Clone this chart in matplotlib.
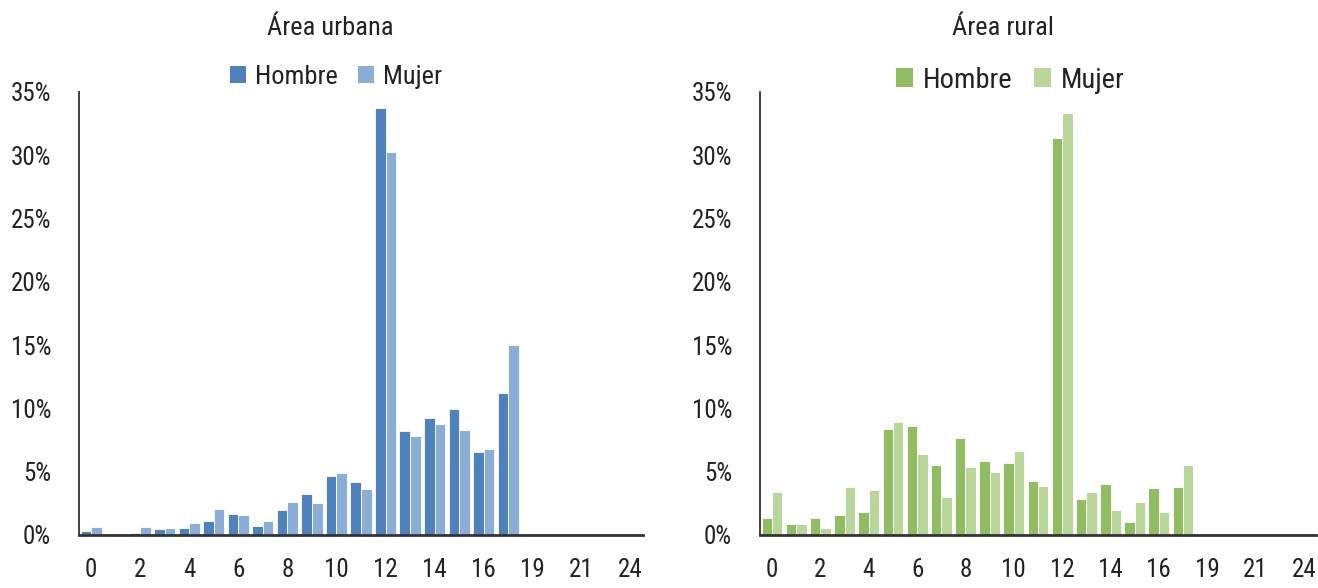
import matplotlib
matplotlib.use("Agg")
import matplotlib.pyplot as plt
import matplotlib.font_manager as fm
import numpy as np
from matplotlib.patches import Patch
from matplotlib.ticker import FuncFormatter, MultipleLocator

# Prefer a narrow sans face (Calibri-like proportions) when one is installed
_fonts = fm.fontManager.ttflist
_names = {f.name for f in _fonts}
font_family, font_stretch = 'Open Sans', 'normal'
for cand in ['Liberation Sans Narrow', 'Roboto Condensed', 'Open Sans Condensed',
             'Noto Sans Condensed', 'Arial Narrow']:
    if cand in _names:
        font_family = cand
        break
else:
    for base in ['Noto Sans', 'DejaVu Sans', 'Open Sans', 'Roboto']:
        if any(f.name == base and str(f.stretch) in ('condensed', 'semi-condensed')
               for f in _fonts):
            font_family, font_stretch = base, 'condensed'
            break

plt.rcParams['font.family'] = [font_family, 'DejaVu Sans']
plt.rcParams['font.stretch'] = font_stretch

# Years of schooling categories
years = ['0', '1', '2', '3', '4', '5', '6', '7', '8', '9', '10', '11',
         '12', '13', '14', '15', '16', '17', '19', '20', '21', '22', '24']

# Share of population (%) by years of schooling
urban_men = [0.34, 0.05, 0.16, 0.50, 0.55, 1.08, 1.63, 0.74, 2.00, 3.23, 4.65, 4.20,
             33.70, 8.20, 9.26, 9.97, 6.57, 11.25, 0.02, 0.10, 0.0, 0.02, 0.01]
urban_women = [0.60, 0.08, 0.60, 0.55, 0.92, 2.08, 1.58, 1.08, 2.60, 2.50, 4.90, 3.60,
               30.26, 7.80, 8.75, 8.33, 6.78, 15.00, 0.05, 0.06, 0.0, 0.05, 0.0]
rural_men = [1.35, 0.85, 1.35, 1.60, 1.80, 8.35, 8.60, 5.50, 7.70, 5.85, 5.65, 4.30,
             31.40, 2.85, 4.00, 1.05, 3.70, 3.80, 0.0, 0.0, 0.0, 0.0, 0.0]
rural_women = [3.40, 0.85, 0.55, 3.80, 3.55, 8.90, 6.40, 3.00, 5.40, 4.95, 6.60, 3.85,
               33.33, 3.40, 2.00, 2.60, 1.80, 5.55, 0.0, 0.0, 0.0, 0.0, 0.0]

W, H = 1318, 588
fig = plt.figure(figsize=(W / 100, H / 100), dpi=100)

panels = [
    dict(title='Área urbana', men=urban_men, women=urban_women,
         colors=('#4F81BD', '#8BAED6'), rect=(79, 643), tx=330, lx=336, ly=77, lfs=19),
    dict(title='Área rural', men=rural_men, women=rural_women,
         colors=('#92BC62', '#B9D69B'), rect=(760, 1316), tx=1003, lx=1010, ly=80, lfs=20.5),
]

x = np.arange(len(years))
bw = 0.43
y_top, y_bot = 92, 535

for p in panels:
    x0, x1 = p['rect']
    ax = fig.add_axes([x0 / W, (H - y_bot) / H, (x1 - x0) / W, (y_bot - y_top) / H])
    c_m, c_w = p['colors']
    ax.bar(x - bw / 2, np.array(p['men']) / 100, width=bw, color=c_m,
           edgecolor='white', linewidth=0.6)
    ax.bar(x + bw / 2, np.array(p['women']) / 100, width=bw, color=c_w,
           edgecolor='white', linewidth=0.6)
    ax.set_xlim(-0.5, len(years) - 0.5)
    ax.set_ylim(0, 0.35)
    ax.yaxis.set_major_locator(MultipleLocator(0.05))
    ax.yaxis.set_major_formatter(FuncFormatter(lambda v, _: f'{v * 100:.0f}%'))
    ax.set_xticks(x[::2])
    ax.set_xticklabels(years[::2])
    ax.tick_params(axis='both', length=0, labelsize=18, colors='#222222')
    ax.tick_params(axis='x', pad=16.5)
    ax.tick_params(axis='y', pad=20)
    for s in ('top', 'right'):
        ax.spines[s].set_visible(False)
    ax.spines['left'].set_color('#333333')
    ax.spines['left'].set_linewidth(1.3)
    ax.spines['bottom'].set_color('#333333')
    ax.spines['bottom'].set_linewidth(2.0)

    fig.text(p['tx'] / W, 1 - 28 / H, p['title'], ha='center', va='center',
             fontsize=19, color='#222222')
    handles = [Patch(facecolor=c_m, edgecolor='none', label='Hombre'),
               Patch(facecolor=c_w, edgecolor='none', label='Mujer')]
    fig.legend(handles=handles, loc='center', bbox_to_anchor=(p['lx'] / W, 1 - p['ly'] / H),
               ncol=2, frameon=False, fontsize=p['lfs'], handlelength=0.6,
               handleheight=0.6, handletextpad=0.35, columnspacing=0.75,
               labelcolor='#222222', borderpad=0)

fig.savefig('out.png', dpi=100)
